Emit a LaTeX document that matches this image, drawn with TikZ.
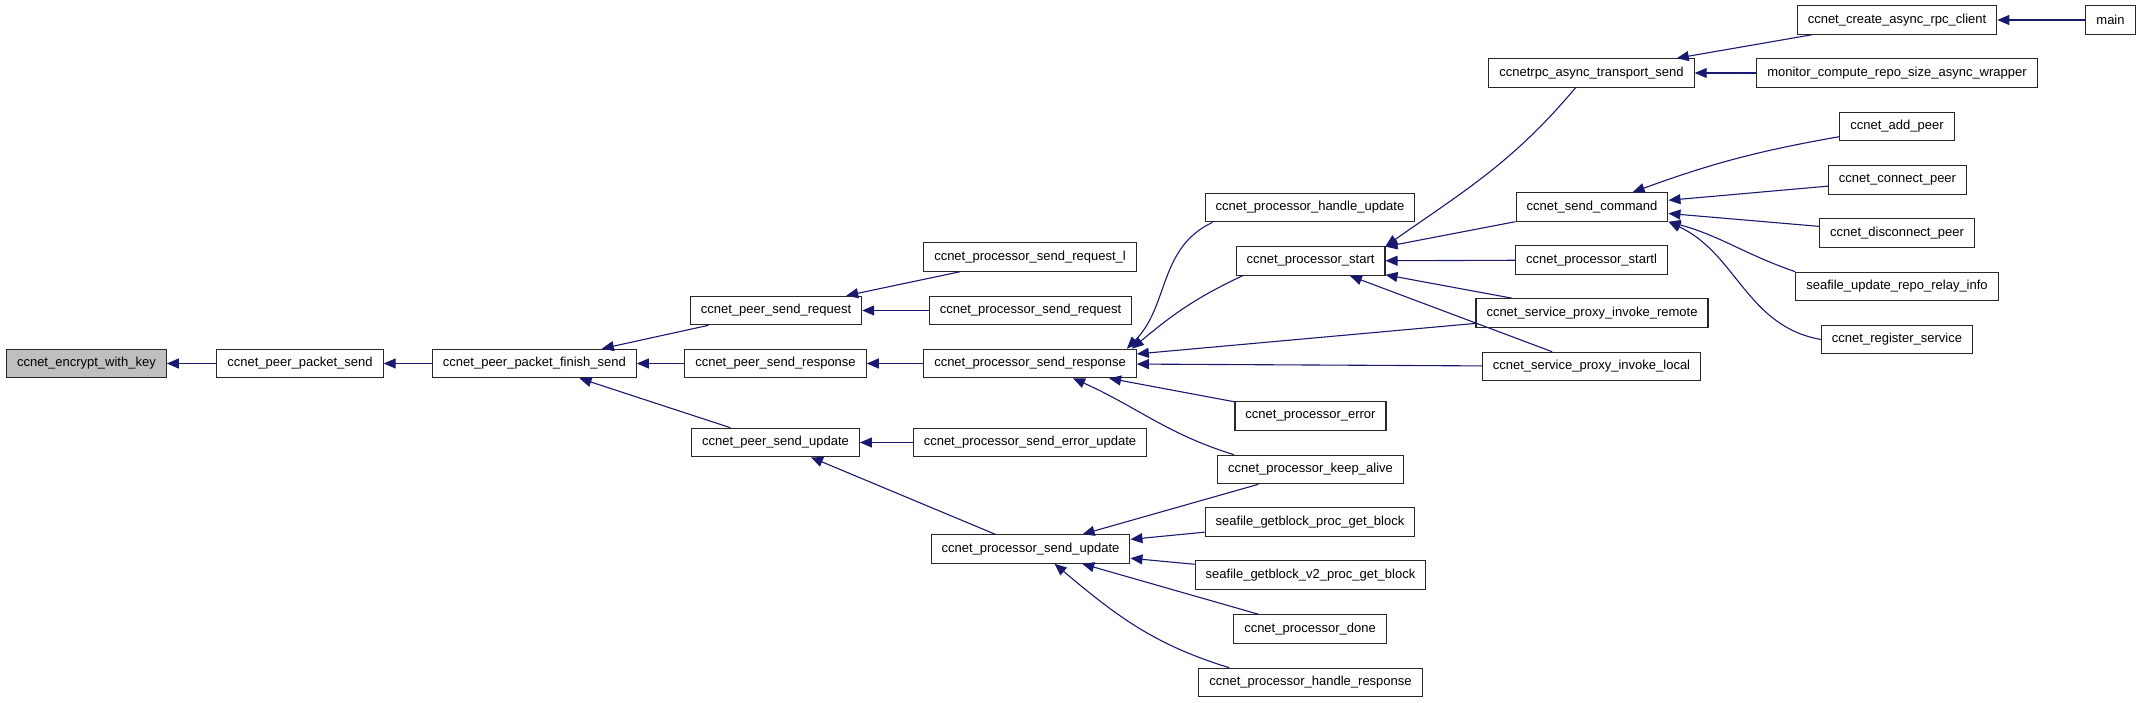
\documentclass[tikz,border=0pt]{standalone}
\usepackage{fontspec}
\usepackage{tikz}
\usepackage{xcolor}
\usetikzlibrary{arrows.meta}
\setmainfont{Liberation Sans}
\definecolor{edgeblue}{RGB}{25,25,112}
\definecolor{focusgray}{RGB}{191,191,191}
\definecolor{boxline}{RGB}{40,40,40}

\begin{document}
\begin{tikzpicture}[
		x=1pt, y=-1pt,
		fn/.style={draw=boxline, fill=white, line width=1.1pt,
			minimum height=28.5pt, inner xsep=10.5pt, inner ysep=0pt,
			font=\fontsize{13}{15}\selectfont},
		focus/.style={fn, fill=focusgray},
		arrow/.style={-{Triangle[length=12pt, width=10pt]}, line width=1.1pt, draw=edgeblue}
	]
		\useasboundingbox (0,0) rectangle (2141,703);

		\node[focus] (encrypt) at (86.4,363.5) {ccnet\_encrypt\_with\_key};
		\node[fn] (pktsend) at (300,363.5) {ccnet\_peer\_packet\_send};
		\node[fn] (finishsend) at (534.4,363.5) {ccnet\_peer\_packet\_finish\_send};

		\node[fn] (sendreq) at (776,310.5) {ccnet\_peer\_send\_request};
		\node[fn] (sendresp) at (775.5,363.5) {ccnet\_peer\_send\_response};
		\node[fn] (sendupd) at (775.5,442.5) {ccnet\_peer\_send\_update};

		\node[fn] (procreql) at (1030,257) {ccnet\_processor\_send\_request\_l};
		\node[fn] (procreq) at (1030.5,310.5) {ccnet\_processor\_send\_request};
		\node[fn] (procresp) at (1030,363.5) {ccnet\_processor\_send\_response};
		\node[fn] (procerrupd) at (1030,442.5) {ccnet\_processor\_send\_error\_update};
		\node[fn] (procupd) at (1030.5,549) {ccnet\_processor\_send\_update};

		\node[fn] (hupdate) at (1310,207.5) {ccnet\_processor\_handle\_update};
		\node[fn] (pstart) at (1310.5,261) {ccnet\_processor\_start};
		\node[fn] (perror) at (1310.5,416) {ccnet\_processor\_error};
		\node[fn] (keepalive) at (1310.5,469.5) {ccnet\_processor\_keep\_alive};
		\node[fn] (getblock) at (1310,522) {seafile\_getblock\_proc\_get\_block};
		\node[fn] (getblockv) at (1310.5,575) {seafile\_getblock\_v2\_proc\_get\_block};
		\node[fn] (pdone) at (1310,629) {ccnet\_processor\_done};
		\node[fn] (hresponse) at (1310.5,682.5) {ccnet\_processor\_handle\_response};

		\node[fn] (rpcsend) at (1591.5,73) {ccnetrpc\_async\_transport\_send};
		\node[fn] (sendcmd) at (1592,207) {ccnet\_send\_command};
		\node[fn] (pstartl) at (1591.5,260) {ccnet\_processor\_startl};
		\node[fn] (invremote) at (1592,313) {ccnet\_service\_proxy\_invoke\_remote};
		\node[fn] (invlocal) at (1591.5,366.5) {ccnet\_service\_proxy\_invoke\_local};

		\node[fn] (rpcclient) at (1897,20) {ccnet\_create\_async\_rpc\_client};
		\node[fn] (monitor) at (1897,73) {monitor\_compute\_repo\_size\_async\_wrapper};
		\node[fn] (addpeer) at (1897,126.5) {ccnet\_add\_peer};
		\node[fn] (connpeer) at (1897.5,180) {ccnet\_connect\_peer};
		\node[fn] (disconnpeer) at (1897,233) {ccnet\_disconnect\_peer};
		\node[fn] (relayinfo) at (1897,286.5) {seafile\_update\_repo\_relay\_info};
		\node[fn] (regservice) at (1897,339.5) {ccnet\_register\_service};

		\node[fn] (main) at (2110.5,20) {main};

		\draw[arrow] (pktsend) -- (encrypt);
		\draw[arrow] (finishsend) -- (pktsend);
		\draw[arrow] (sendreq) -- (finishsend);
		\draw[arrow] (sendresp) -- (finishsend);
		\draw[arrow] (sendupd) -- (finishsend);
		\draw[arrow] (procreql) -- (sendreq);
		\draw[arrow] (procreq) -- (sendreq);
		\draw[arrow] (procresp) -- (sendresp);
		\draw[arrow] (procerrupd) -- (sendupd);
		\draw[arrow] (procupd) -- (sendupd);

		\draw[arrow] ([xshift=8]hupdate.south west) to[out=-155, in=45] ([xshift=-10]procresp.north east);
		\draw[arrow] ([xshift=7]pstart.south west) to[out=-155, in=40] ([xshift=-5]procresp.north east);
		\draw[arrow] (invremote) -- (procresp);
		\draw[arrow] (invlocal) -- (procresp);
		\draw[arrow] (perror) -- (procresp);
		\draw[arrow] ([xshift=17]keepalive.north west) to[out=163, in=-24] ([xshift=43]procresp.south);

		\draw[arrow] (keepalive) -- (procupd);
		\draw[arrow] (getblock) -- (procupd);
		\draw[arrow] (getblockv) -- (procupd);
		\draw[arrow] (pdone) -- (procupd);
		\draw[arrow] ([xshift=31]hresponse.north west) to[out=163, in=-40] ([xshift=24]procupd.south);

		\draw[arrow] ([xshift=-16]rpcsend.south) to[out=-130, in=35] (pstart.north east);
		\draw[arrow] (sendcmd) -- (pstart);
		\draw[arrow] (pstartl) -- (pstart);
		\draw[arrow] (invremote) -- (pstart);
		\draw[arrow] (invlocal) -- (pstart);

		\draw[arrow] (rpcclient) -- (rpcsend);
		\draw[arrow] (monitor) -- (rpcsend);
		\draw[arrow] (main) -- (rpcclient);

		\draw[arrow] (addpeer) to[out=190, in=20] (sendcmd);
		\draw[arrow] (connpeer) -- (sendcmd);
		\draw[arrow] (disconnpeer) -- (sendcmd);
		\draw[arrow] (relayinfo.north west) to[out=161, in=-15] (sendcmd.south east);
		\draw[arrow] (regservice.west) to[out=170, in=-25] (sendcmd.south east);
	\end{tikzpicture}
\end{document}
